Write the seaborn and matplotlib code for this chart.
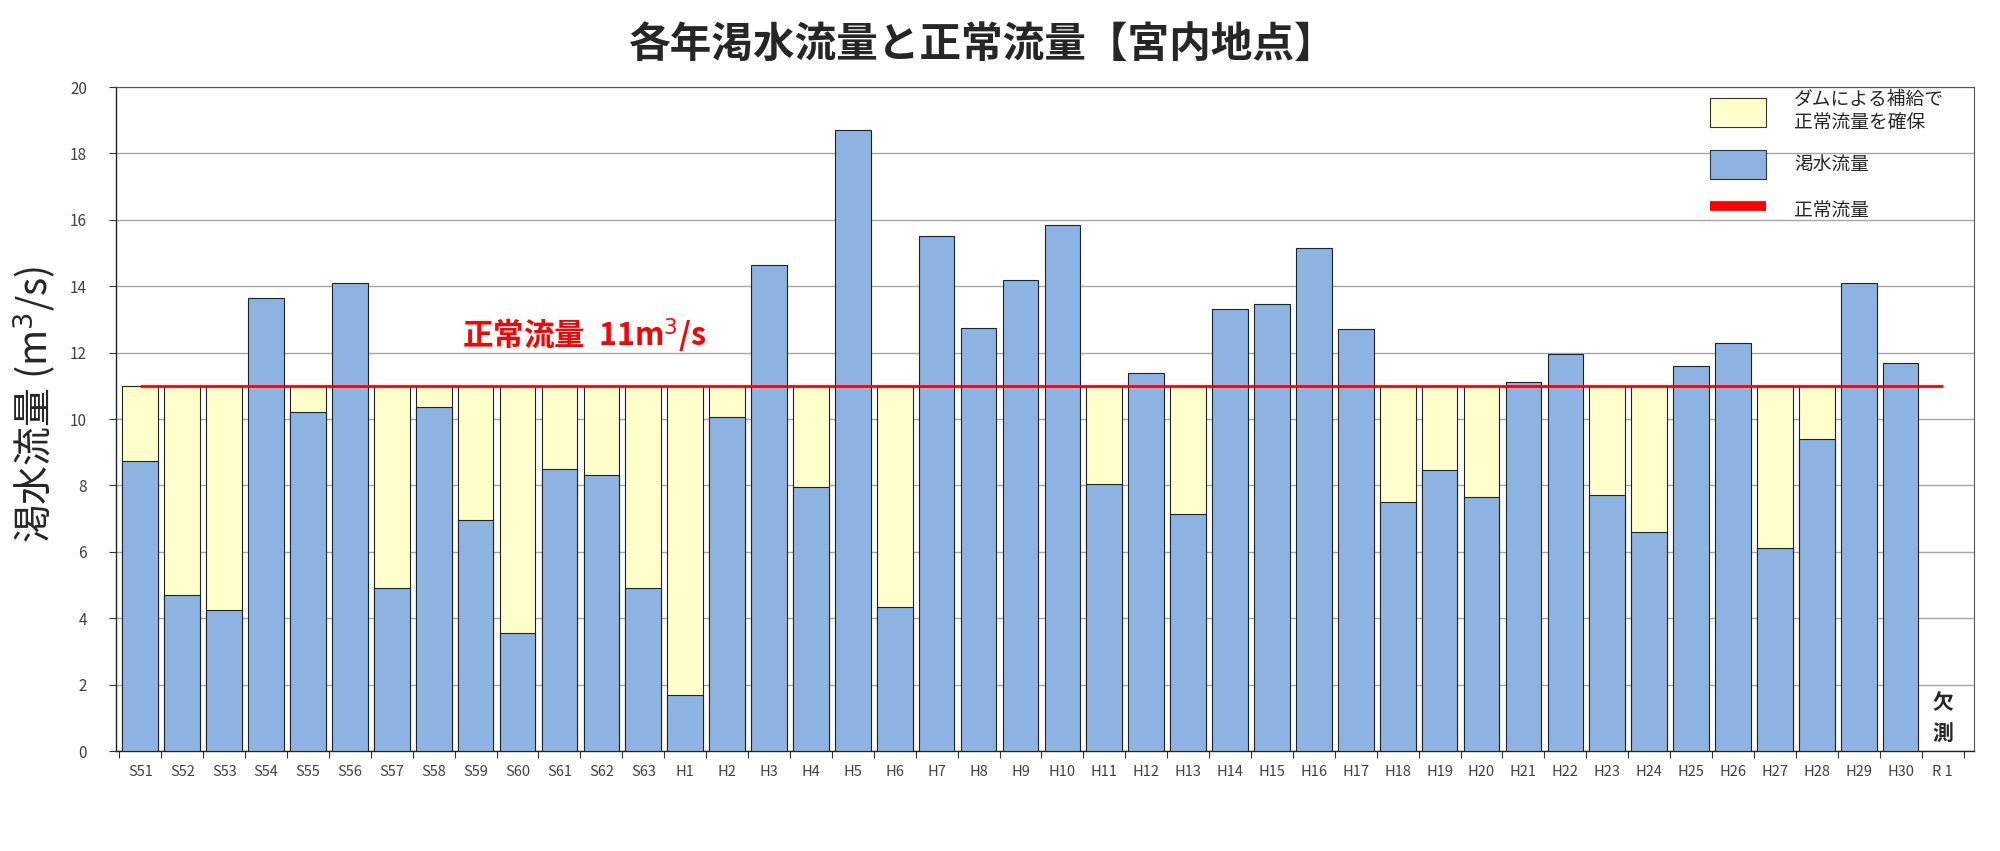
import numpy as np
import pandas as pd
import matplotlib
matplotlib.use("Agg")
import matplotlib.pyplot as plt
import seaborn as sns
from matplotlib.patches import Patch
from matplotlib.lines import Line2D

# ---- data ----
years = ["S51", "S52", "S53", "S54", "S55", "S56", "S57", "S58", "S59", "S60",
         "S61", "S62", "S63", "H1", "H2", "H3", "H4", "H5", "H6", "H7",
         "H8", "H9", "H10", "H11", "H12", "H13", "H14", "H15", "H16", "H17",
         "H18", "H19", "H20", "H21", "H22", "H23", "H24", "H25", "H26", "H27",
         "H28", "H29", "H30", "R 1"]
drought_flow = [8.75, 4.7, 4.25, 13.65, 10.2, 14.1, 4.9, 10.35, 6.95, 3.55,
                8.5, 8.3, 4.9, 1.7, 10.05, 14.65, 7.95, 18.7, 4.35, 15.5,
                12.75, 14.2, 15.85, 8.05, 11.4, 7.15, 13.3, 13.45, 15.15, 12.7,
                7.5, 8.45, 7.65, 11.1, 11.95, 7.7, 6.6, 11.6, 12.3, 6.1,
                9.4, 14.1, 11.7, np.nan]
normal_flow = 11.0
missing_label = "欠\n測"

title = "各年渇水流量と正常流量【宮内地点】"
ylabel = "渇水流量 (m$^3$/s)"
annot = "正常流量  11m$^3$/s"
legend_labels = ["ダムによる補給で\n正常流量を確保", "渇水流量", "正常流量"]

blue = "#8DB3E2"
yellow = "#FFFFCC"
red = "#FF0000"

# stacked total: drought flow + dam supplement up to the normal flow
flow = np.array(drought_flow, dtype=float)
supplemented_total = np.where(flow < normal_flow, normal_flow, np.nan)

df = pd.DataFrame({"year": years, "flow": flow, "total": supplemented_total})

sns.set_theme(style="white")
plt.rcParams["font.family"] = ["Noto Sans CJK JP", "DejaVu Sans"]
plt.rcParams["mathtext.fontset"] = "dejavusans"

fig = plt.figure(figsize=(20, 8.51), dpi=100)
ax = fig.add_axes([116 / 2000, 1 - 751 / 851, (1974 - 116) / 2000, (751 - 87) / 851])

sns.barplot(data=df, x="year", y="total", order=years, color=yellow, saturation=1,
            width=0.85, edgecolor="#222222", linewidth=0.8, errorbar=None, ax=ax, zorder=2)
sns.barplot(data=df, x="year", y="flow", order=years, color=blue, saturation=1,
            width=0.85, edgecolor="#222222", linewidth=0.8, errorbar=None, ax=ax, zorder=3)

ax.hlines(normal_flow, 0, len(years) - 1, colors=red, linewidth=2, zorder=4)

ax.set_ylim(0, 20)
ax.set_xlim(-0.58, len(years) - 0.25)
ax.set_yticks(np.arange(0, 21, 2))
ax.yaxis.grid(True, color="#A6A6A6", linewidth=1)
ax.set_axisbelow(True)

ax.set_xlabel("")
ax.set_ylabel(ylabel, fontsize=28)
ax.yaxis.set_label_coords(-0.031, 0.522)
ax.tick_params(axis="y", labelsize=11, labelcolor="#404040", length=5, width=0.8,
               direction="out", left=True, color="#333333", pad=16)
ax.tick_params(axis="x", labelsize=10.5, labelcolor="#404040", length=0, pad=10)
ax.set_xticks(np.arange(-0.5, len(years) - 0.5 + 1), minor=True)
ax.tick_params(axis="x", which="minor", length=5, width=0.8, color="#333333",
               direction="out", bottom=True)

for s in ["left", "bottom"]:
    ax.spines[s].set_color("#222222")
    ax.spines[s].set_linewidth(1)
for s in ["top", "right"]:
    ax.spines[s].set_color("#555555")
    ax.spines[s].set_linewidth(0.8)

fig.text(0.4915, 0.947, title, fontsize=30, fontweight="bold", ha="center", va="center")

ax.text(10.6, 12.5, annot, color=red, fontsize=22, fontweight="bold", ha="center", va="center",
        zorder=5)
ax.text(len(years) - 1, 1.0, missing_label, fontsize=15, fontweight="bold", ha="center",
        va="center", linespacing=1.6, zorder=5)

handles = [Patch(facecolor=yellow, edgecolor="#333333", linewidth=0.8),
           Patch(facecolor=blue, edgecolor="#333333", linewidth=0.8),
           Line2D([0], [0], color=red, linewidth=7, solid_capstyle="butt")]
ax.legend(handles, legend_labels, loc="upper right", bbox_to_anchor=(0.993, 1.0235),
          frameon=False, fontsize=13.5, handlelength=3.0, handleheight=2.0,
          handletextpad=1.5, labelspacing=0.9)

fig.savefig("out.png", dpi=100)
